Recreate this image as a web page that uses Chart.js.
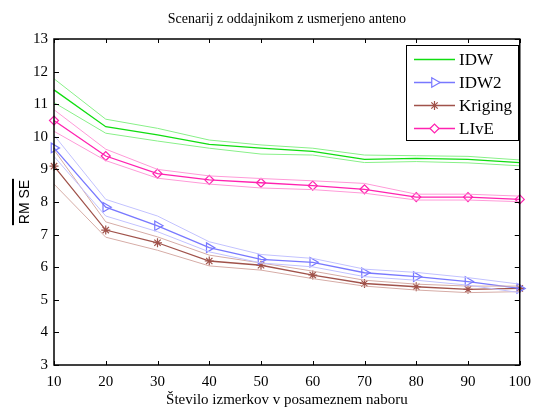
<!DOCTYPE html>
<html>
<head>
<meta charset="utf-8">
<script src="https://cdn.jsdelivr.net/npm/chart.js@4.4.1/dist/chart.umd.min.js"></script>
<style>
  html, body { margin: 0; padding: 0; background: #fff; }
  #wrap { width: 539px; height: 409px; position: relative; }
</style>
</head>
<body>
<div id="wrap"><canvas id="rmse"></canvas></div>
<script>
// number of measurements in random set
var stevilo = [10, 20, 30, 40, 50, 60, 70, 80, 90, 100];

// IDW
var idw    = [11.44, 10.31, 10.06, 9.77, 9.65, 9.55, 9.31, 9.34, 9.31, 9.21];
var idwGor = [11.78, 10.54, 10.26, 9.90, 9.75, 9.65, 9.44, 9.42, 9.40, 9.29];
var idwDol = [11.05, 10.11, 9.87, 9.65, 9.47, 9.44, 9.21, 9.24, 9.20, 9.11];

// IDW2
var idw2    = [9.66, 7.84, 7.27, 6.60, 6.24, 6.15, 5.83, 5.71, 5.56, 5.35];
var idw2Gor = [10.05, 8.08, 7.57, 6.78, 6.39, 6.27, 5.94, 5.84, 5.68, 5.48];
var idw2Dol = [9.40, 7.57, 7.09, 6.47, 6.13, 6.01, 5.71, 5.60, 5.45, 5.22];

// Kriging
var kriging    = [9.10, 7.14, 6.75, 6.19, 6.06, 5.76, 5.50, 5.40, 5.32, 5.35];
var krigingGor = [9.60, 7.39, 6.93, 6.37, 6.13, 5.88, 5.60, 5.48, 5.42, 5.42];
var krigingDol = [8.55, 6.92, 6.52, 6.04, 5.91, 5.65, 5.42, 5.30, 5.22, 5.25];

// LIvE
var live    = [10.50, 9.41, 8.87, 8.68, 8.59, 8.50, 8.39, 8.15, 8.15, 8.08];
var liveGor = [10.83, 9.62, 9.00, 8.80, 8.72, 8.65, 8.57, 8.24, 8.24, 8.18];
var liveDol = [10.17, 9.27, 8.73, 8.55, 8.43, 8.38, 8.27, 8.06, 8.06, 8.01];

var yTicks = [3, 4, 5, 6, 7, 8, 9, 10, 11, 12, 13];
var xTicks = stevilo;

var serif = "'Liberation Serif', 'Times New Roman', serif";

function tocke(vals) {
    return vals.map(function (v, i) { return { x: stevilo[i], y: v }; });
}

function pas(vals, barva) {
    return {
        label: '',
        legenda: false,
        data: tocke(vals),
        borderColor: barva,
        borderWidth: 1,
        pointRadius: 0,
        tension: 0,
        clip: false
    };
}

function glavna(label, vals, barva, oblika, velikost, rot) {
    return {
        label: label,
        legenda: true,
        data: tocke(vals),
        borderColor: barva,
        backgroundColor: 'rgba(0,0,0,0)',
        borderWidth: 1.3,
        pointStyle: oblika,
        pointRadius: velikost,
        pointRotation: rot || 0,
        pointBorderColor: barva,
        pointBackgroundColor: 'rgba(0,0,0,0)',
        pointBorderWidth: 1.2,
        tension: 0,
        clip: false
    };
}

// frame with inward ticks
var okvir = {
    id: 'okvir',
    afterDatasetsDraw: function (chart) {
        var c = chart.ctx, a = chart.chartArea;
        var sx = chart.scales.x, sy = chart.scales.y;
        c.save();
        c.strokeStyle = '#000';
        c.lineWidth = 1.5;
        c.strokeRect(a.left, a.top, a.right - a.left, a.bottom - a.top);
        c.lineWidth = 1;
        c.beginPath();
        xTicks.forEach(function (t) {
            var px = Math.round(sx.getPixelForValue(t)) + 0.5;
            c.moveTo(px, a.bottom); c.lineTo(px, a.bottom - 4);
            c.moveTo(px, a.top); c.lineTo(px, a.top + 4);
        });
        yTicks.forEach(function (t) {
            var py = Math.round(sy.getPixelForValue(t)) + 0.5;
            c.moveTo(a.left, py); c.lineTo(a.left + 5, py);
            c.moveTo(a.right, py); c.lineTo(a.right - 5, py);
        });
        c.stroke();
        c.restore();
    }
};

// titles and legend
var napisi = {
    id: 'napisi',
    afterDraw: function (chart) {
        var c = chart.ctx, a = chart.chartArea;
        var cx = (a.left + a.right) / 2;
        c.save();
        c.fillStyle = '#000';
        c.textAlign = 'center';
        c.textBaseline = 'middle';
        c.font = '14px ' + serif;
        c.fillText('Scenarij z oddajnikom z usmerjeno anteno', cx, 19);
        c.font = '15px ' + serif;
        c.fillText('Število izmerkov v posameznem naboru', cx, 400);

        // y label with overline
        var cy = (a.top + a.bottom) / 2;
        c.save();
        c.translate(25, cy);
        c.rotate(-Math.PI / 2);
        c.font = '14px "Liberation Sans", Arial, sans-serif';
        var w = c.measureText('RM SE').width;
        c.fillText('RM SE', 0, 0);
        c.fillRect(-w / 2 - 1, -13, w + 2, 2);
        c.restore();

        // legend
        var bx = 406, by = 45, bw = 112, bh = 95;
        c.fillStyle = '#fff';
        c.fillRect(bx, by, bw, bh);
        c.strokeStyle = '#000';
        c.lineWidth = 1;
        c.strokeRect(bx + 0.5, by + 0.5, bw, bh);
        var vrstice = chart.data.datasets.filter(function (d) { return d.legenda; });
        c.font = '17px ' + serif;
        c.textAlign = 'left';
        vrstice.forEach(function (d, i) {
            var y = 59.5 + i * 23;
            c.strokeStyle = d.borderColor;
            c.lineWidth = 1.3;
            c.beginPath();
            c.moveTo(414, y); c.lineTo(455, y);
            c.stroke();
            if (d.pointRadius > 0) {
                c.lineWidth = d.pointBorderWidth;
                c.fillStyle = '#fff';
                Chart.helpers.drawPoint(c, {
                    pointStyle: d.pointStyle,
                    radius: d.pointRadius,
                    rotation: d.pointRotation,
                    borderWidth: d.pointBorderWidth
                }, 434.5, y);
            }
            c.fillStyle = '#000';
            c.fillText(d.label, 459, y + 1);
        });
        c.restore();
    }
};

new Chart(document.getElementById('rmse').getContext('2d'), {
    type: 'line',
    data: {
        datasets: [
            pas(idwGor, '#88f088'), pas(idwDol, '#88f088'),
            pas(idw2Gor, '#c2c2ff'), pas(idw2Dol, '#c2c2ff'),
            pas(krigingGor, '#d6aca6'), pas(krigingDol, '#d6aca6'),
            pas(liveGor, '#ff9ad8'), pas(liveDol, '#ff9ad8'),
            glavna('IDW', idw, '#10dd10', 'circle', 0),
            glavna('IDW2', idw2, '#7878ff', 'triangle', 5.5, 90),
            glavna('Kriging', kriging, '#a0524a', 'star', 4.5),
            glavna('LIvE', live, '#ff22b0', 'rectRot', 4.5)
        ]
    },
    options: {
        responsive: true,
        maintainAspectRatio: false,
        devicePixelRatio: 1,
        animation: false,
        layout: { padding: { top: 39, right: 16, left: 0, bottom: 0 } },
        plugins: {
            legend: { display: false },
            title: { display: false },
            tooltip: { enabled: false }
        },
        scales: {
            x: {
                type: 'linear',
                min: 10,
                max: 100,
                afterBuildTicks: function (s) { s.ticks = xTicks.map(function (v) { return { value: v }; }); },
                afterFit: function (s) { s.height = 44; },
                grid: { display: false, drawTicks: false },
                border: { display: false },
                ticks: { color: '#000', padding: 8, maxRotation: 0, font: { family: serif, size: 15 } }
            },
            y: {
                min: 3,
                max: 13,
                afterBuildTicks: function (s) { s.ticks = yTicks.map(function (v) { return { value: v }; }); },
                afterFit: function (s) { s.width = 54; },
                grid: { display: false, drawTicks: false },
                border: { display: false },
                ticks: { color: '#000', padding: 6, font: { family: serif, size: 15 } }
            }
        }
    },
    plugins: [okvir, napisi]
});
</script>
</body>
</html>
